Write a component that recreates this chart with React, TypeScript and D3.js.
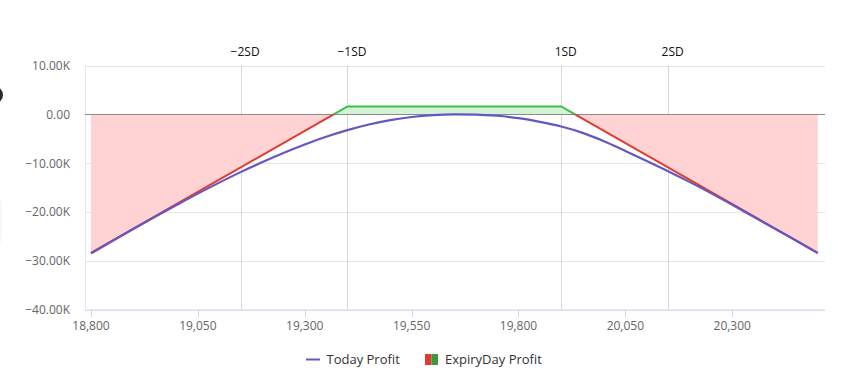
import React from "react";
import * as d3 from "d3";

const todayX = [18800, 18850, 18900, 18950, 19000, 19050, 19100, 19150, 19200, 19250, 19300, 19350, 19400, 19450, 19500, 19550, 19600, 19650, 19700, 19750, 19800, 19850, 19900, 19950, 20000, 20050, 20100, 20150, 20200, 20250, 20300, 20350, 20400, 20450, 20500];
const todayY = [-28500, -25950, -23450, -21000, -18600, -16250, -14000, -11850, -9850, -7950, -6200, -4600, -3250, -2100, -1200, -550, -150, 0, -50, -300, -800, -1550, -2500, -3800, -5500, -7500, -9550, -11650, -13850, -16150, -18550, -21000, -23450, -25900, -28450];

const expiryX = [18800, 19400, 19900, 20500];
const expiryY = [-28400, 1600, 1600, -28400];

const yTicks = [10000, 0, -10000, -20000, -30000, -40000];
const yTickLabels = ["10.00K", "0.00", "−10.00K", "−20.00K", "−30.00K", "−40.00K"];
const xTicks = [18800, 19050, 19300, 19550, 19800, 20050, 20300];
const xTickLabels = ["18,800", "19,050", "19,300", "19,550", "19,800", "20,050", "20,300"];
const sdX = [19150, 19400, 19900, 20150];
const sdLabels = ["−2SD", "−1SD", "1SD", "2SD"];

const seriesNames = ["Today Profit", "ExpiryDay Profit"];

const W = 848, H = 376;
const left = 85, right = 825, top = 65.5, bottom = 309.5;
const FONT = "'Open Sans', 'DejaVu Sans', sans-serif";

export default function App() {
  const x = d3.scaleLinear().domain([18786, 20517]).range([left, right]);
  const y = d3.scaleLinear().domain([-40000, 10000]).range([bottom, top]);

  const today = todayX.map((v, i) => [v, todayY[i]] as [number, number]);
  const expiry = expiryX.map((v, i) => [v, expiryY[i]] as [number, number]);

  const line = d3.line<[number, number]>().x(d => x(d[0])).y(d => y(d[1])).curve(d3.curveMonotoneX);
  const lineLin = d3.line<[number, number]>().x(d => x(d[0])).y(d => y(d[1]));
  const area = d3.area<[number, number]>().x(d => x(d[0])).y0(y(0)).y1(d => y(d[1]));

  const y0 = y(0);

  return (
    <div style={{ position: "absolute", left: 0, top: 0, width: W, height: H, background: "#fff" }}>
      <svg width={W} height={H} style={{ display: "block", fontFamily: FONT }}>
        <defs>
          <clipPath id="above"><rect x={left} y={top - 10} width={right - left} height={y0 - top + 10} /></clipPath>
          <clipPath id="below"><rect x={left} y={y0} width={right - left} height={bottom - y0 + 10} /></clipPath>
        </defs>
        <rect x={0} y={0} width={W} height={H} fill="#fff" />
        {/* page artifacts at the left edge */}
        <circle cx={-6} cy={95} r={9} fill="#2a2a2a" />
        <ellipse cx={-2} cy={222} rx={4} ry={28} fill="#f6f6f6" />

        {/* grid */}
        {yTicks.map((t, i) => (
          <line key={"g" + i} x1={left} x2={right} y1={Math.round(y(t)) + 0.5} y2={Math.round(y(t)) + 0.5} stroke="#e6e6e6" strokeWidth={1} />
        ))}
        <line x1={left + 0.5} x2={left + 0.5} y1={top} y2={bottom} stroke="#e6e6e6" />

        {/* SD plot lines */}
        {sdX.map((v, i) => (
          <g key={"sd" + i}>
            <line x1={Math.round(x(v)) + 0.5} x2={Math.round(x(v)) + 0.5} y1={top} y2={bottom} stroke="#d6d6d6" strokeWidth={1} />
            <text x={x(v) + 4.5} y={56} textAnchor="middle" fontSize={12} fill="#111">{sdLabels[i]}</text>
          </g>
        ))}

        {/* expiry areas */}
        <path d={area(expiry) || ""} fill="#d3f3d6" clipPath="url(#above)" />
        <path d={area(expiry) || ""} fill="#ffd3d3" clipPath="url(#below)" />

        {/* zero line */}
        <line x1={left} x2={right} y1={Math.round(y0) + 0.5} y2={Math.round(y0) + 0.5} stroke="#8a8a8a" strokeWidth={1} />

        {/* expiry line */}
        <path d={lineLin(expiry) || ""} fill="none" stroke="#3dbd4a" strokeWidth={2} clipPath="url(#above)" />
        <path d={lineLin(expiry) || ""} fill="none" stroke="#df3b30" strokeWidth={2} clipPath="url(#below)" />

        {/* today line */}
        <path d={line(today) || ""} fill="none" stroke="#6656c2" strokeWidth={2.2} />

        {/* x axis */}
        <line x1={left} x2={right} y1={bottom + 0.5} y2={bottom + 0.5} stroke="#ccd6eb" />
        {xTicks.map((t, i) => (
          <g key={"x" + i}>
            <line x1={Math.round(x(t)) + 0.5} x2={Math.round(x(t)) + 0.5} y1={bottom} y2={bottom + 8} stroke="#ccd6eb" />
            <text x={x(t)} y={329.5} textAnchor="middle" fontSize={12} fill="#666">{xTickLabels[i]}</text>
          </g>
        ))}

        {/* y labels */}
        {yTicks.map((t, i) => (
          <text key={"y" + i} x={70} y={y(t) + 4.5} textAnchor="end" fontSize={12} fill="#666">{yTickLabels[i]}</text>
        ))}

        {/* legend */}
        <line x1={306} x2={320} y1={359.5} y2={359.5} stroke="#6656c2" strokeWidth={2} />
        <text x={326.5} y={364} fontSize={13} fill="#333">{seriesNames[0]}</text>
        <rect x={425} y={354} width={6.5} height={11} fill="#df3b30" />
        <rect x={431.5} y={354} width={6.5} height={11} fill="#3a9a3c" />
        <text x={445} y={364} fontSize={13} fill="#333">{seriesNames[1]}</text>
      </svg>
    </div>
  );
}
